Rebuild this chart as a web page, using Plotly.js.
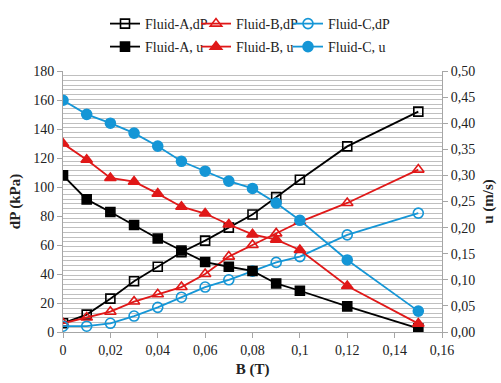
<!DOCTYPE html>
<html>
<head>
<meta charset="utf-8">
<script src="https://cdn.plot.ly/plotly-3.0.1.min.js"></script>
<style>html,body{margin:0;padding:0;background:#fff;}#chart{width:501px;height:383px;}</style>
</head>
<body>
<div id="chart"></div>
<script>
// Magnetic field B (T)
var B = [0, 0.01, 0.02, 0.03, 0.04, 0.05, 0.06, 0.07, 0.08, 0.09, 0.1, 0.12, 0.15];
// Pressure drop dP (kPa)
var dpA = [6, 12, 23, 35, 45, 55, 63, 72, 81, 93, 105, 128, 152];
var dpB = [6, 10, 14, 21, 26, 31, 40, 52, 60, 68, 76, 89, 112];
var dpC = [4, 4, 6, 11, 17, 24, 31, 36, 42, 48, 52, 67, 82];
// Velocity u (m/s)
var uA = [0.300, 0.254, 0.230, 0.205, 0.179, 0.156, 0.134, 0.125, 0.117, 0.093, 0.079, 0.049, 0.007];
var uB = [0.361, 0.330, 0.295, 0.288, 0.265, 0.240, 0.227, 0.206, 0.187, 0.177, 0.157, 0.088, 0.016];
var uC = [0.444, 0.417, 0.400, 0.381, 0.356, 0.327, 0.308, 0.289, 0.275, 0.247, 0.214, 0.138, 0.040];
var names = ["Fluid-A,dP", "Fluid-B,dP", "Fluid-C,dP", "Fluid-A, u", "Fluid-B, u", "Fluid-C, u"];

var BLACK = '#000000', RED = '#e01818', BLUE = '#1596d6';
var legIds = ['legend', 'legend2', 'legend3', 'legend4', 'legend5', 'legend6'];
function tr(i, y, color, sym, axis, size) {
  return {
    x: B, y: y, name: names[i], type: 'scatter', mode: 'lines+markers',
    yaxis: axis, legend: legIds[i],
    line: {color: color, width: 1.8},
    marker: {symbol: sym, size: size, color: color, line: {color: color, width: 1.6}}
  };
}
var data = [
  tr(0, dpA, BLACK, 'square-open', 'y', 9),
  tr(1, dpB, RED, 'triangle-up-open', 'y', 10),
  tr(2, dpC, BLUE, 'circle-open', 'y', 10),
  tr(3, uA, BLACK, 'square', 'y2', 9),
  tr(4, uB, RED, 'triangle-up', 'y2', 10),
  tr(5, uC, BLUE, 'circle', 'y2', 10)
];

var F = 'Times New Roman';
var AX = '#a6a6a6';
var TXT = '#222';
var legX = [105, 196, 288, 105, 196, 288];
var legY = [8, 8, 8, 31, 31, 31];

var layout = {
  width: 501, height: 383,
  margin: {l: 63, r: 59, t: 71, b: 51},
  paper_bgcolor: '#fff', plot_bgcolor: '#fff',
  separators: ', ',
  font: {family: F, size: 14, color: TXT},
  showlegend: true,
  xaxis: {
    range: [0, 0.16], dtick: 0.02, tick0: 0,
    showgrid: false, zeroline: false,
    showline: true, linecolor: AX, linewidth: 1,
    ticks: 'outside', ticklen: 5, tickcolor: AX,
    tickfont: {family: F, size: 14, color: TXT},
    title: {text: '<b>B (T)</b>', font: {family: F, size: 15, color: TXT}, standoff: 6}
  },
  yaxis: {
    range: [0, 180], dtick: 20, tick0: 0,
    showgrid: false, zeroline: false,
    showline: true, linecolor: AX, linewidth: 1,
    ticks: 'outside', ticklen: 5, tickcolor: AX,
    minor: {dtick: 180 / 55, tick0: 0, showgrid: true, gridcolor: '#bfbfbf', gridwidth: 1, ticks: ''},
    tickfont: {family: F, size: 14, color: TXT},
    title: {text: '<b>dP (kPa)</b>', font: {family: F, size: 15, color: TXT}, standoff: 8}
  },
  yaxis2: {
    range: [0, 0.5], dtick: 0.05, tick0: 0, tickformat: '.2f',
    overlaying: 'y', side: 'right',
    showgrid: false, zeroline: false,
    showline: true, linecolor: AX, linewidth: 1,
    ticks: 'outside', ticklen: 5, tickcolor: AX,
    tickfont: {family: F, size: 14, color: TXT},
    title: {text: '<b>u (m/s)</b>', font: {family: F, size: 15, color: TXT}, standoff: 8}
  }
};
legIds.forEach(function (id, i) {
  layout[id] = {
    orientation: 'h', xref: 'container', yref: 'container',
    x: legX[i] / 501, y: 1 - legY[i] / 383, xanchor: 'left', yanchor: 'top',
    font: {family: F, size: 14, color: TXT},
    itemwidth: 30, bgcolor: 'rgba(0,0,0,0)'
  };
});
Plotly.newPlot('chart', data, layout, {staticPlot: true, displayModeBar: false});
</script>
</body>
</html>
